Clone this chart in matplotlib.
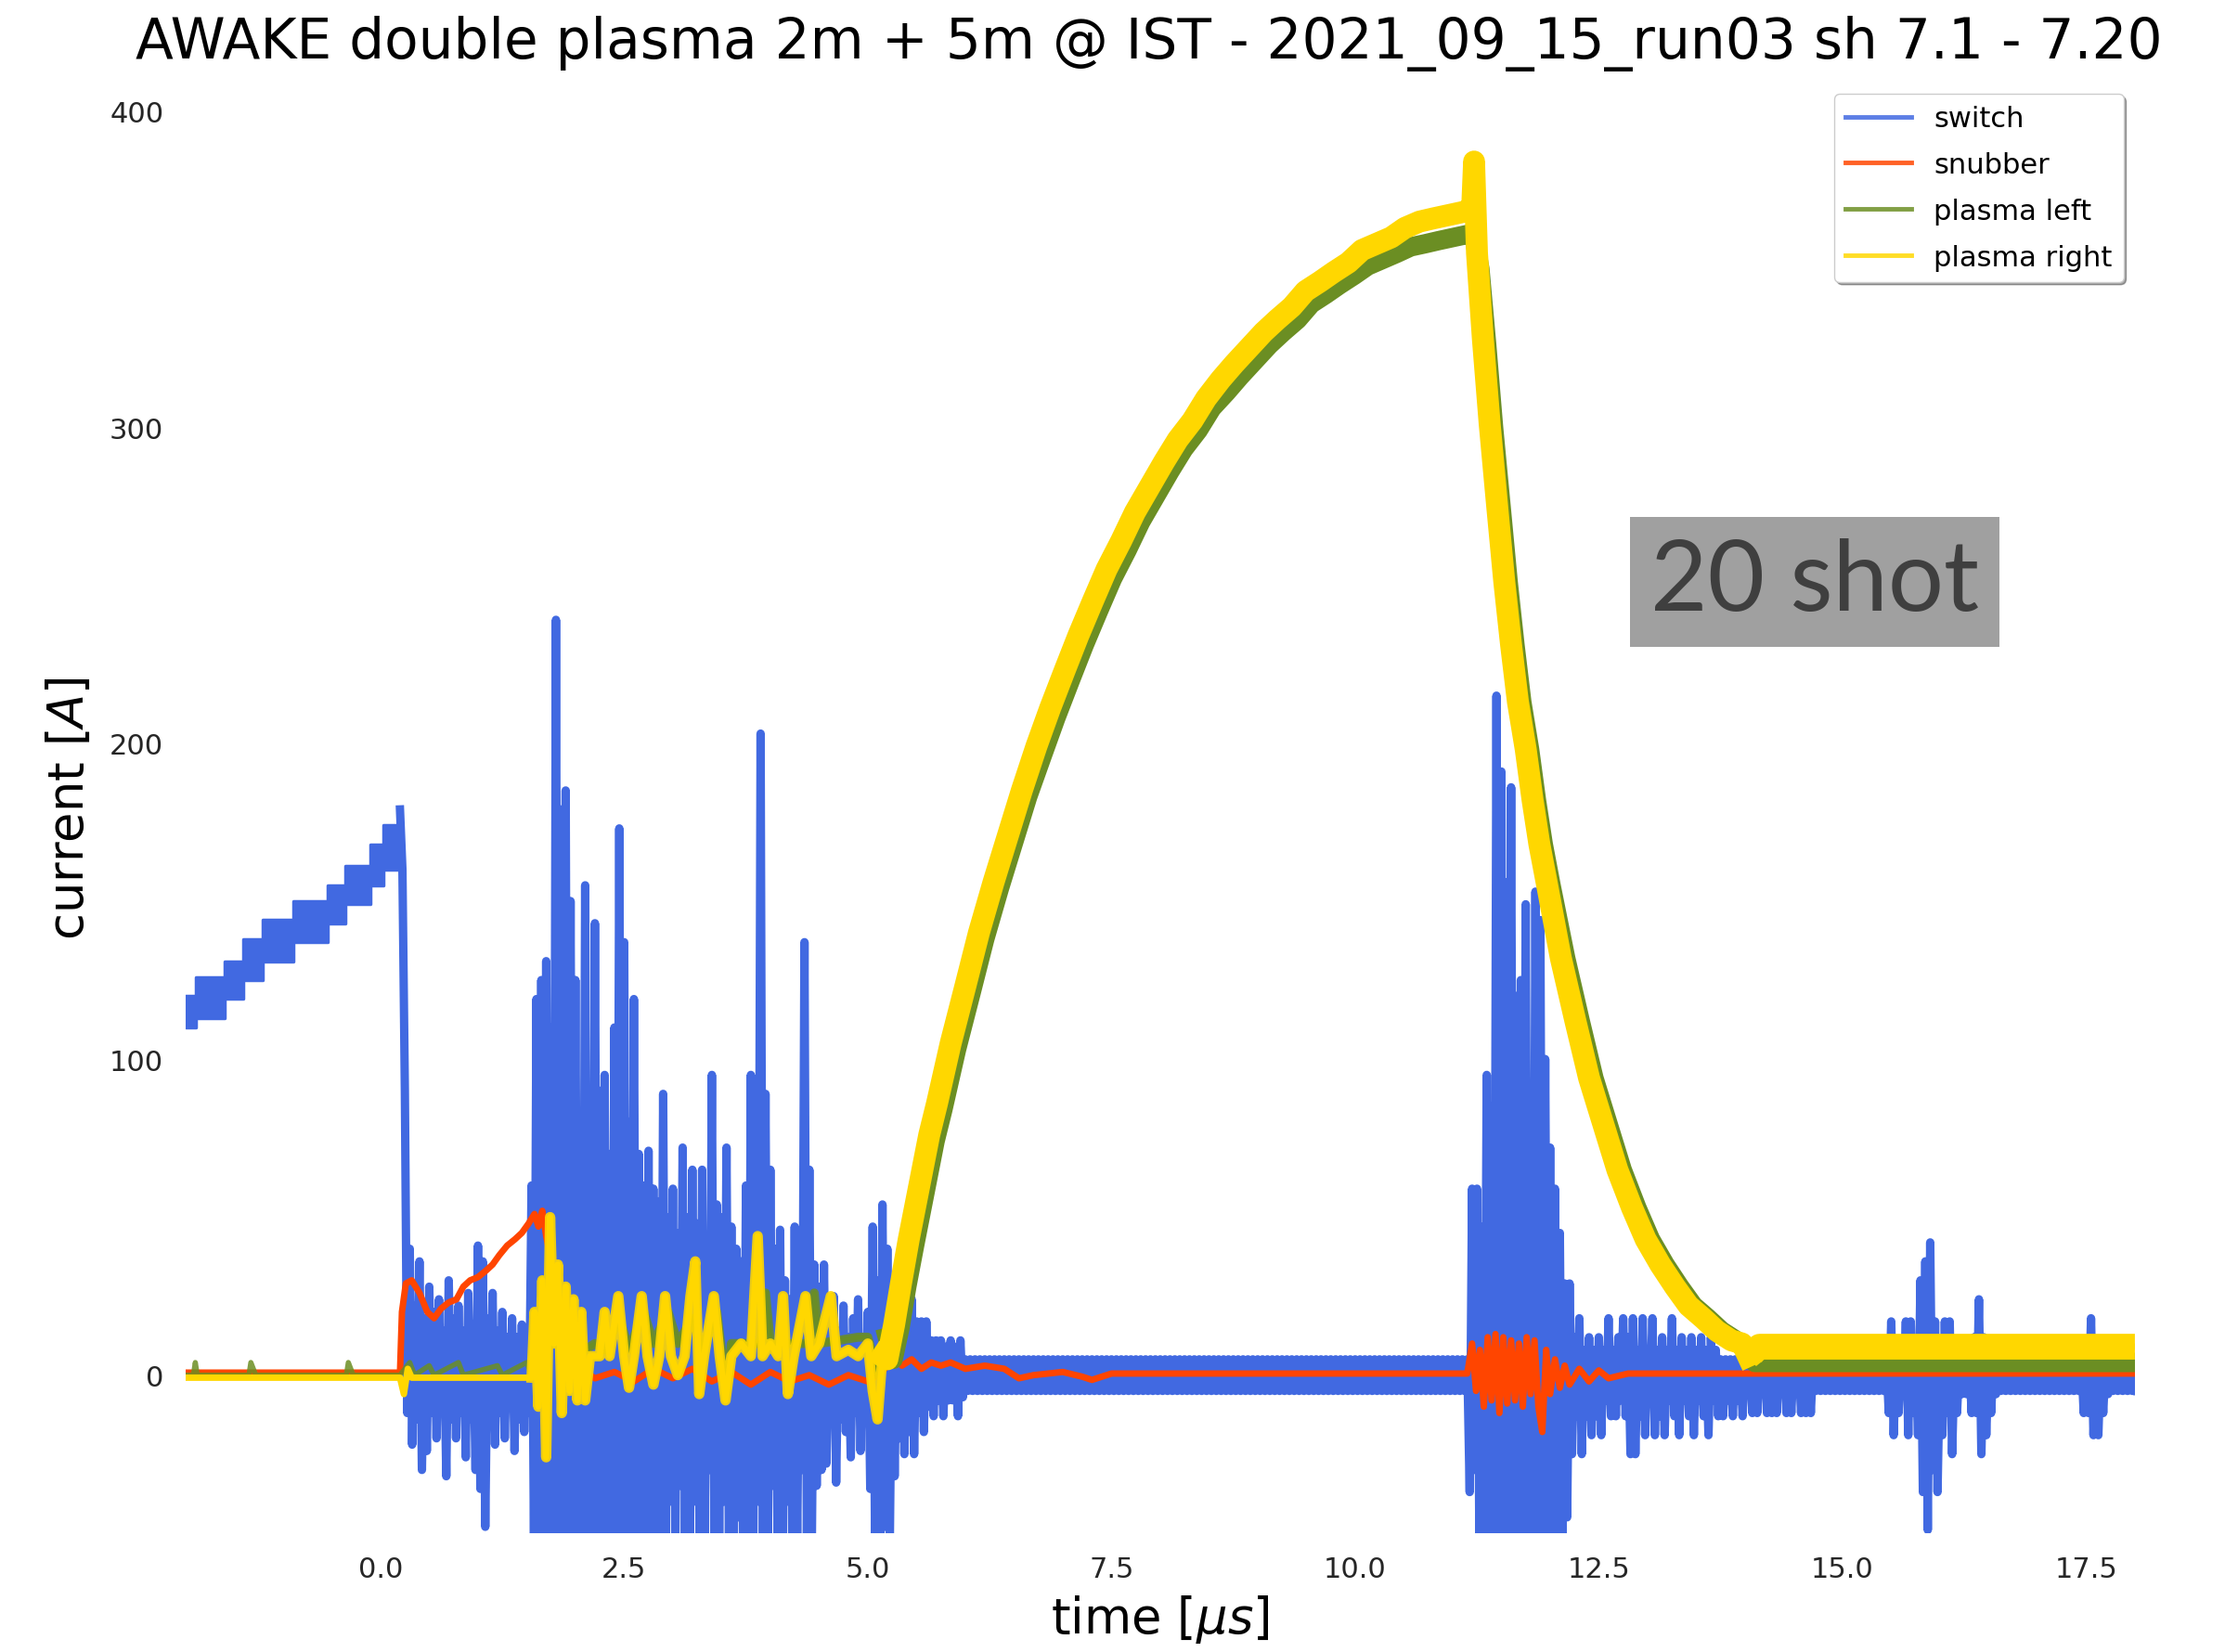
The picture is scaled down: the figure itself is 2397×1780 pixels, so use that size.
import numpy as np
import matplotlib
matplotlib.use("Agg")
import matplotlib.pyplot as plt
from matplotlib.ticker import FormatStrFormatter

# keep every vertex of the dense scope traces
plt.rcParams["path.simplify"] = False

# ---- switch, before the trigger (staircase band of the 20 shots) ----
switch_pre_t = [-2.0, -1.89, -1.60, -1.41, -1.21, -0.89, -0.54, -0.36, -0.10, 0.03, 0.19]
switch_pre_hi = [120, 126, 131, 138, 144, 150, 155, 161, 168, 174, 174]
switch_pre_lo = [110, 113, 119, 125, 131, 137, 143, 149, 155, 160, 160]

# ---- switch after the trigger: max / min read every 0.05 us from 0.20 to 18.00 ----
hi_a = [179, 90, 40, 22, 36, 18, 28, 20, 24, 14, 30, 18, 22, 14, 26, 16, 41, 36, 18, 26,
        14, 20, 12, 18, 12, 16, 12]
lo_a = [160, -12, -22, -14, -30, -24, -12, -20, -12, -32, -14, -20, -12, -26, -14, -30, -36, -48, -14, -22,
        -12, -20, -10, -24, -14, -18, -12]
hi_b = [60, 119, 125, 131, 110, 239, 179, 185, 150, 125,
        72, 155, 85, 143, 90, 95, 70, 110, 173, 137,
        80, 119, 70, 60, 71, 59, 55, 89, 50, 59,
        45, 72, 50, 65, 48, 65, 40, 95, 54, 50,
        72, 47, 40, 36, 60, 95, 80, 203, 89, 65,
        40, 46, 30, 24, 47, 40, 137, 65, 35, 28]
lo_b = [-55] * 28 + [-40, -55, -35, -55, -55, -40, -55, -55, -30, -55,
                     -55, -40, -55, -55, -45, -55, -55, -55, -40, -55,
                     -55, -35, -55, -55, -40, -55, -55, -30, -55, -55,
                     -35, -30]
hi_c = [35, 14, 25, 14, 22, 12, 18, 24, 12, 20, 47, 30, 54, 40, 24, 17, 24, 17, 24, 17,
        17, 17, 11, 11, 11, 9, 11, 9, 11, 5]
lo_c = [-28, -12, -34, -14, -18, -26, -12, -24, -14, -36, -55, -55, -48, -55, -32, -20, -25, -18, -25, -12,
        -18, -10, -13, -8, -13, -8, -8, -13, -7, -5]
hi_d = [5] * 102
lo_d = [-5] * 102
hi_e = [5, 59, 59, 47, 95, 85, 215, 191, 156, 186, 120, 125, 149, 83, 153, 144, 100, 72, 59, 45, 29]
lo_e = [-37, -30] + [-55] * 18 + [-45]
hi_f = [29, 12, 18, 8, 12, 8, 12, 8, 18, 8, 12, 18, 12, 18, 8, 18, 8, 18, 8, 12,
        8, 18, 8, 12, 8, 12, 8, 12, 8, 12, 8, 5, 5, 5, 5, 5, 5]
lo_f = [-25, -13, -25, -13, -19, -13, -19, -8, -13, -13, -8, -13, -25, -25, -13, -19, -8, -19, -13, -19,
        -8, -13, -19, -8, -13, -19, -8, -13, -19, -8, -13, -13, -8, -13, -8, -13, -5]
hi_g = [5] * 28
lo_g = [-12, -12, -5, -12, -12, -12, -5, -12, -12, -5, -12, -12, -12, -5] + [-5] * 14
hi_h = [5, 17, 5, 5, 17, 17, 5, 30, 36, 42, 17, 5, 17, 17, 5, 5, 5, 5, 12, 24, 12, 5, 5, 5]
lo_h = [-12, -19, -12, -6, -19, -12, -19, -37, -49, -30, -37, -19, -12, -25, -12, -6, -6, -12, -12, -25,
        -19, -12, -6, -5]
hi_i = [5] * 16
lo_i = [-5] * 16
hi_j = [5, 5, 18, 5, 5, 5]
lo_j = [-12, -12, -19, -19, -12, -6]
hi_k = [5] * 6
lo_k = [-5] * 6

switch_hi = hi_a + hi_b + hi_c + hi_d + hi_e + hi_f + hi_g + hi_h + hi_i + hi_j + hi_k
switch_lo = lo_a + lo_b + lo_c + lo_d + lo_e + lo_f + lo_g + lo_h + lo_i + lo_j + lo_k
switch_t = np.round(0.20 + 0.05 * np.arange(len(switch_hi)), 2)

# ---- snubber ----
snub_t = [-2.0, 0.20, 0.22, 0.26, 0.32, 0.40, 0.48, 0.55, 0.62, 0.70,
          0.78, 0.85, 0.92, 1.00, 1.08, 1.15, 1.22, 1.30, 1.38, 1.45,
          1.52, 1.58, 1.62, 1.66, 1.70, 1.74, 1.78, 1.83, 1.88, 1.95,
          2.05, 2.20, 2.40, 2.60, 2.80, 3.00, 3.20, 3.40, 3.60, 3.80,
          4.00, 4.20, 4.40, 4.60, 4.80, 5.00, 5.15, 5.25, 5.35, 5.45,
          5.55, 5.65, 5.75, 5.85, 6.00, 6.20, 6.40, 6.55, 6.70, 7.00,
          7.20, 7.30, 7.50, 8.00, 9.00, 10.00, 11.15, 11.20, 11.24, 11.28,
          11.32, 11.36, 11.40, 11.44, 11.48, 11.52, 11.56, 11.60, 11.64, 11.68,
          11.72, 11.76, 11.80, 11.84, 11.88, 11.92, 11.96, 12.00, 12.05, 12.10,
          12.15, 12.20, 12.30, 12.40, 12.50, 12.60, 12.80, 14.00, 16.00, 18.00]
snub_v = [0.8, 0.8, 20, 29, 30, 26, 20, 18, 21, 23,
          24, 28, 30, 31, 33, 35, 38, 41, 43, 45,
          48, 51, 47, 52, 44, 38, 30, 20, 12, 5,
          2, -1, 1, -2, 2, -1, 2, -2, 1, -3,
          1, -2, 0, -3, 0, -2, 1, 6, 3, 5,
          2, 4, 3, 4, 2, 3, 2, -1, 0, 1,
          -0.5, -1.5, 0.5, 0.5, 0.5, 0.5, 0.5, 10, -5, 8,
          -10, 12, -8, 13, -12, 12, -9, 11, -8, 10,
          -10, 12, -6, 11, -10, -18, 8, -6, 5, -4,
          3, -3, 2, -2, 1.5, -1, 0.5, 0.5, 0.5, 0.5]

# ---- plasma right ----
right_t = [-2.0, 0.20, 0.24, 0.28, 0.32, 1.55, 1.58, 1.62, 1.66, 1.70,
           1.74, 1.78, 1.82, 1.86, 1.90, 1.94, 1.98, 2.02, 2.06, 2.10,
           2.15, 2.25, 2.30, 2.35, 2.44, 2.50, 2.55, 2.60, 2.68, 2.74,
           2.80, 2.86, 2.92, 2.98, 3.05, 3.12, 3.18, 3.23, 3.27, 3.32,
           3.42, 3.48, 3.54, 3.60, 3.70, 3.80, 3.87, 3.92, 4.00, 4.08,
           4.13, 4.18, 4.24, 4.36, 4.42, 4.50, 4.62, 4.68, 4.80, 4.90,
           5.00, 5.05, 5.10, 5.15,
           5.20, 5.27, 5.34, 5.42, 5.49, 5.56, 5.63, 5.71, 5.85, 6.00,
           6.14, 6.29, 6.44, 6.58, 6.73, 6.87, 7.02, 7.16, 7.31, 7.45,
           7.60, 7.74, 7.89, 8.04, 8.18, 8.33, 8.47, 8.62, 8.76, 8.91,
           9.06, 9.20, 9.35, 9.49, 9.64, 9.78, 9.93, 10.07, 10.22, 10.37,
           10.51, 10.66, 10.80, 10.95, 11.10, 11.20, 11.22,
           11.25, 11.31, 11.38, 11.46, 11.53, 11.60, 11.67, 11.75, 11.82, 11.89,
           11.97, 12.11, 12.26, 12.40, 12.55, 12.69, 12.84, 12.98, 13.13, 13.28,
           13.42, 13.57, 13.71, 13.86, 13.97, 14.03, 14.15, 18.00]
right_v = [-0.8, -0.8, -6, 2, -0.8, -0.8, 20, -10, 30, -26,
           50, 10, 35, -12, 28, -5, 24, -8, 20, -8,
           6, 6, 20, 6, 25, 6, -4, 6, 25, 6,
           -3, 6, 25, 6, 0, 6, 25, 36, -6, 6,
           25, 6, -8, 6, 10, 6, 44, 6, 10, 6,
           25, -6, 6, 25, 6, 10, 25, 6, 8, 6,
           10, -5, -14, 6,
           5, 16, 29, 43, 54, 65, 76, 86, 105, 123,
           140, 156, 171, 185, 199, 211, 223, 234, 245, 255,
           264, 273, 281, 289, 296, 302, 309, 315, 320, 325,
           330, 334, 338, 343, 346, 349, 352, 356, 358, 360,
           363, 365, 366, 367, 368, 369, 384,
           355, 328, 301, 274, 251, 231, 213, 198, 182, 168,
           155, 132, 112, 94, 79, 65, 53, 43, 35, 28,
           22, 18, 14, 11, 10, 6, 9, 9]

# ---- plasma left ----
left_t = [-2.0, -1.92, -1.90, -1.88, -1.35, -1.33, -1.28, -0.35, -0.33, -0.28,
          0.20, 0.30, 0.35, 0.50, 0.55, 0.80, 0.85, 1.20, 1.25, 1.50,
          1.55, 1.60, 1.65, 1.70, 1.75, 1.80, 1.85, 1.90, 1.95, 2.00,
          2.10, 2.20, 2.30, 2.45, 2.55, 2.70, 2.80, 2.95, 3.05, 3.20,
          3.30, 3.45, 3.55, 3.60, 3.90, 3.95, 4.00, 4.40, 4.45, 4.50,
          4.90, 5.00, 5.10, 5.20,
          5.26, 5.33, 5.40, 5.48, 5.55, 5.62, 5.69, 5.77, 5.91, 6.06,
          6.20, 6.35, 6.50, 6.64, 6.79, 6.93, 7.08, 7.22, 7.37, 7.51,
          7.66, 7.80, 7.95, 8.10, 8.24, 8.39, 8.53, 8.68, 8.82, 8.97,
          9.12, 9.26, 9.41, 9.55, 9.70, 9.84, 9.99, 10.13, 10.28, 10.43,
          10.57, 10.72, 10.86, 11.01, 11.16, 11.22,
          11.28, 11.35, 11.42, 11.50, 11.57, 11.64, 11.71, 11.79, 11.86, 11.93,
          12.01, 12.16, 12.31, 12.45, 12.60, 12.74, 12.89, 13.03, 13.18, 13.33,
          13.47, 13.62, 13.76, 13.91, 14.03, 14.10, 18.00]
left_v = [0, 0, 4, 0, 0, 4, 0, 0, 4, 0,
          0, 4, 0, 3, 0, 4, 0, 3, 0, 4,
          0, 15, -8, 20, 10, 30, 5, 20, 0, 15,
          8, 10, 8, 18, 8, 20, 10, 20, 10, 18,
          8, 20, -5, 10, 10, 26, 10, 10, 26, 10,
          12, 12, 0, 12,
          5, 15, 28, 41, 52, 63, 74, 84, 103, 121,
          138, 154, 169, 183, 196, 208, 220, 231, 242, 252,
          261, 270, 278, 286, 293, 299, 306, 311, 316, 321,
          326, 330, 334, 339, 342, 345, 348, 351, 353, 355,
          357, 358, 359, 360, 361, 360,
          350, 326, 300, 274, 251, 231, 213, 198, 182, 168,
          155, 132, 112, 94, 79, 65, 53, 43, 35, 28,
          22, 18, 14, 11, 8, 4, 4]

xticks = [0.0, 2.5, 5.0, 7.5, 10.0, 12.5, 15.0, 17.5]
yticks = [0, 100, 200, 300, 400]

# zigzag: max then min at each sample, like the dense scope trace
zz_t = np.column_stack([switch_t, switch_t + 0.025]).ravel()
zz_v = np.column_stack([switch_hi, switch_lo]).ravel()

fig = plt.figure(figsize=(23.97, 17.81), dpi=100)
ax = fig.add_axes([0.0834, 0.0719, 0.8761, 0.8776])

ax.fill_between(switch_pre_t, switch_pre_lo, switch_pre_hi, step="post",
                color="royalblue", lw=2.5)
l1, = ax.plot(zz_t, zz_v, color="royalblue", lw=6.5, label="switch")
l2, = ax.plot(snub_t, snub_v, color="orangered", lw=5, label="snubber")

lt = np.array(left_t)
lv = np.array(left_v)
l3, = ax.plot(lt, lv, color="olivedrab", lw=4, alpha=0.85, label="plasma left")
m = (lt >= 1.55) & (lt <= 5.2)
ax.plot(lt[m], lv[m], color="olivedrab", lw=7, alpha=0.85)
m = lt >= 5.2
ax.plot(lt[m], lv[m], color="olivedrab", lw=15)

rt = np.array(right_t)
rv = np.array(right_v)
l4, = ax.plot(rt, rv, color="gold", lw=5, label="plasma right")
m = (rt >= 1.55) & (rt <= 5.2)
ax.plot(rt[m], rv[m], color="gold", lw=8, alpha=0.9)
m = (rt >= 5.15) & (rt <= 14.03)
ax.plot(rt[m], rv[m], color="gold", lw=17)
m = rt >= 14.03
ax.plot(rt[m], rv[m], color="gold", lw=20, solid_capstyle="butt")

ax.set_xlim(-2.0, 18.0)
ax.set_ylim(-50, 409)
ax.set_xticks(xticks)
ax.set_yticks(yticks)
ax.xaxis.set_major_formatter(FormatStrFormatter("%.1f"))
ax.tick_params(length=0, pad=17, labelsize=22, labelcolor="#262626")
for s in ax.spines.values():
    s.set_visible(False)

ax.set_xlabel(r"time [$\mu s$]", fontsize=38, labelpad=8)
ax.set_ylabel(r"current [$A$]", fontsize=38, labelpad=12)

leg = ax.legend(handles=[l1, l2, l3, l4], loc="upper right", fontsize=22,
                shadow=True, fancybox=True, handlelength=2.3, labelspacing=0.68,
                borderaxespad=0.4, framealpha=1)
for h in leg.legend_handles:
    h.set_linewidth(3.5)
    h.set_alpha(0.85)

fig.text(0.5166, 1 - 47 / 1781, "AWAKE double plasma 2m + 5m @ IST - 2021_09_15_run03 sh 7.1 - 7.20",
         ha="center", va="center", fontsize=43)

fig.text(0.8156, 0.6474, "20 shot", ha="center", va="center", fontsize=76.5,
         family="Lato", color="#3f3f3f",
         bbox=dict(boxstyle="square,pad=0.21", fc="#a0a0a0", ec="none"))

fig.savefig("out.png", dpi=100)
